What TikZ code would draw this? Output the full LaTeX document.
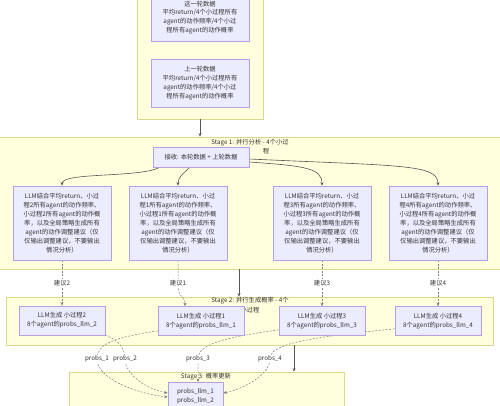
\documentclass[tikz,border=0pt]{standalone}
\usepackage{fontspec}
\setmainfont{Noto Sans CJK SC}
\usetikzlibrary{arrows.meta}
\definecolor{clfill}{HTML}{FFFFDE}
\definecolor{clstroke}{HTML}{D8D890}
\definecolor{ndfill}{HTML}{ECECFF}
\definecolor{ndstroke}{HTML}{B4A0EA}
\definecolor{txt}{HTML}{333333}
\definecolor{edgecol}{HTML}{555555}
\pgfdeclarelayer{bg}
\pgfdeclarelayer{edges}
\pgfsetlayers{bg,edges,main}
\begin{document}
\begin{tikzpicture}[x=1pt,y=-1pt,
 box/.style={draw=ndstroke, fill=ndfill, line width=0.7pt, inner sep=0pt, align=center, text=txt, font=\fontsize{6.3}{8.9}\selectfont},
 cluster/.style={draw=clstroke, fill=clfill, line width=0.7pt, inner sep=0pt},
 ctitle/.style={text=txt, font=\fontsize{6.3}{8.9}\selectfont, inner sep=0pt},
 elabel/.style={text=txt, font=\fontsize{6.3}{8.9}\selectfont, fill=white, inner sep=1pt},
 solidedge/.style={draw=edgecol, line width=0.6pt, -{Stealth[length=3.5pt,width=3pt]}},
 dashededge/.style={draw=edgecol!75, line width=0.5pt, dash pattern=on 2pt off 1.5pt, -{Stealth[length=3.5pt,width=3pt]}}]
\useasboundingbox (0,0) rectangle (500,406);

% clusters
\begin{pgfonlayer}{bg}
\fill[white] (0,0) rectangle (500,406);
\node[cluster, minimum width=126, minimum height=134] (c0) at (200,52) {};
\node[cluster, minimum width=510, minimum height=132] (c1) at (250,203) {};
\node[cluster, minimum width=487, minimum height=48] (c2) at (249.5,321) {};
\node[cluster, minimum width=275, minimum height=58] (c3) at (206.5,401) {};
\node[ctitle] (t1a) at (250,143) {Stage 1: 并行分析 - 4个小过};
\node[ctitle] (t1b) at (266,151.5) {程};
\node[ctitle] (t2a) at (250,301) {Stage 2: 并行生成概率 - 4个};
\node[ctitle] (t2b) at (250,310) {小过程};
\node[ctitle] (t3) at (206,377) {Stage 3: 概率更新};
\end{pgfonlayer}

% nodes
\node[box, minimum width=98, minimum height=47] (cur) at (200,17.5) {这一轮数据\\平均return/4个小过程所有\\agent的动作频率/4个小过\\程所有agent的动作概率};
\node[box, minimum width=98, minimum height=48] (prev) at (200,83) {上一轮数据\\平均return/4个小过程所有\\agent的动作频率/4个小过\\程所有agent的动作概率};
\node[box, minimum width=96, minimum height=20] (recv) at (201,157) {接收: 本轮数据 + 上轮数据};

\node[box, minimum width=98, minimum height=74] (a2) at (62,223) {LLM结合平均return、小过\\程2所有agent的动作频率、\\小过程2所有agent的动作概\\率，以及全局策略生成所有\\agent的动作调整建议（仅\\仅输出调整建议，不要输出\\情况分析）};
\node[box, minimum width=98, minimum height=74] (a1) at (178,223) {LLM结合平均return、小过\\程1所有agent的动作频率、\\小过程1所有agent的动作概\\率，以及全局策略生成所有\\agent的动作调整建议（仅\\仅输出调整建议，不要输出\\情况分析）};
\node[box, minimum width=98, minimum height=74] (a3) at (322,223) {LLM结合平均return、小过\\程3所有agent的动作频率、\\小过程3所有agent的动作概\\率，以及全局策略生成所有\\agent的动作调整建议（仅\\仅输出调整建议，不要输出\\情况分析）};
\node[box, minimum width=98, minimum height=74] (a4) at (438,223) {LLM结合平均return、小过\\程4所有agent的动作频率、\\小过程4所有agent的动作概\\率，以及全局策略生成所有\\agent的动作调整建议（仅\\仅输出调整建议，不要输出\\情况分析）};

\node[box, minimum width=86, minimum height=29] (g2) at (62,320.5) {LLM生成 小过程2\\8个agent的probs\_llm\_2};
\node[box, minimum width=86, minimum height=29] (g1) at (201,321) {LLM生成 小过程1\\8个agent的probs\_llm\_1};
\node[box, minimum width=86, minimum height=29] (g3) at (322,321) {LLM生成 小过程3\\8个agent的probs\_llm\_3};
\node[box, minimum width=86, minimum height=29] (g4) at (438,321) {LLM生成 小过程4\\8个agent的probs\_llm\_4};

\node[box, anchor=north, minimum width=55, inner ysep=6pt, text depth=40pt] (s3) at (195.5,382) {probs\_llm\_1\\probs\_llm\_2};

% edges
\begin{pgfonlayer}{edges}
\draw[solidedge] (c0.south) -- (c0.south |- c1.north);
\draw[solidedge] ([xshift=-11pt]c1.south) -- ([xshift=-10.5pt]c2.north);
\draw[solidedge] ([xshift=44.5pt]c2.south) -- ([xshift=87.5pt]c3.north);

\draw[solidedge] ([xshift=7pt]recv.south west) .. controls (140,178) and (62,172) .. (a2.north);
\draw[solidedge] ([xshift=37pt]recv.south west) .. controls (183,174) and (178,177) .. (a1.north);
\draw[solidedge] ([yshift=-5pt]recv.east) .. controls (305,166) and (322,168) .. (a3.north);
\draw[solidedge] ([yshift=-2pt]recv.east) .. controls (400,166) and (438,164) .. (a4.north);

\draw[dashededge] (a2.south) -- (g2.north);
\node[elabel] (l2) at (62,283) {建议2};
\draw[dashededge] (a1.south) -- (178,285) .. controls (178,298) and (185,296) .. ([xshift=-16pt]g1.north);
\node[elabel] (l1) at (178,283) {建议1};
\draw[dashededge] (a3.south) -- (g3.north);
\node[elabel] (l3) at (322,283) {建议3};
\draw[dashededge] (a4.south) -- (g4.north);
\node[elabel] (l4) at (438,283) {建议4};

\draw[dashededge] ([yshift=5pt]g1.south west) .. controls (110,338) and (97,345) .. (97,359) .. controls (97,380) and (140,394) .. ([yshift=-15pt]s3.north west);
\node[elabel] (p1) at (97,359) {probs\_1};
\draw[dashededge] (g2.south east) .. controls (120,340) and (125,350) .. (125,359) .. controls (125,376) and (150,390) .. ([yshift=-11pt]s3.north west);
\node[elabel] (p2) at (125,359) {probs\_2};
\draw[dashededge] ([yshift=6pt]g3.south west) .. controls (220,338) and (198,345) .. (198,359) -- ([xshift=2.5pt]s3.north);
\node[elabel] (p3) at (198,359) {probs\_3};
\draw[dashededge] ([yshift=7pt]g4.south west) .. controls (300,338) and (270,345) .. (270,359) .. controls (270,376) and (240,390) .. ([yshift=-11pt]s3.north east);
\node[elabel] (p4) at (270,359) {probs\_4};
\end{pgfonlayer}
\end{tikzpicture}
\end{document}
